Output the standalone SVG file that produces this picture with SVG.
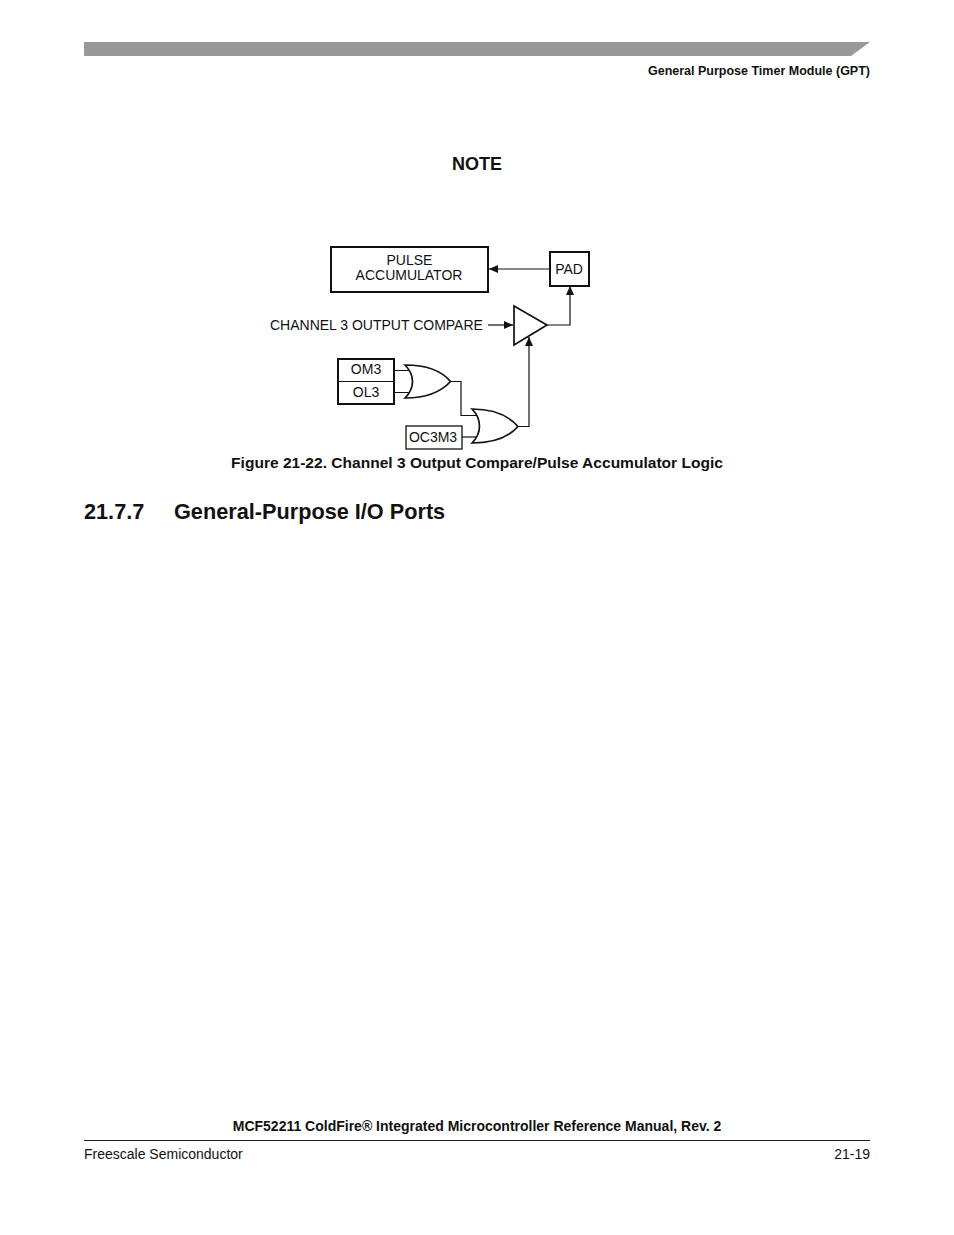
<svg xmlns="http://www.w3.org/2000/svg" width="954" height="1235" viewBox="0 0 954 1235">
<style>
text{font-family:"Liberation Sans",Arial,sans-serif;fill:#111}
.l{font-size:14px}
.b{font-weight:bold}
.m{text-anchor:middle}
.box{fill:#fff;stroke:#111;stroke-width:2}
.thin{fill:#fff;stroke:#111;stroke-width:1.3}
.w{fill:none;stroke:#111;stroke-width:1.2}
.g{fill:#fff;stroke:#111;stroke-width:1.7}
</style>
<defs><marker id="a" markerUnits="userSpaceOnUse" markerWidth="10" markerHeight="8" refX="9" refY="4" orient="auto"><path d="M0 0L9 4L0 8Z" fill="#111"/></marker></defs>
<rect width="954" height="1235" fill="#fff"/>
<g id="page-header">
<polygon points="84,42 870,42 851,56 84,56" fill="#999"/>
<text x="870" y="75" font-size="12.5" class="b" text-anchor="end">General Purpose Timer Module (GPT)</text>
</g>
<text x="477" y="170" font-size="18" class="b m">NOTE</text>
<g id="pulse-accumulator"><rect class="box" x="331" y="247" width="157" height="45"/>
<text class="l m" x="409.500" y="265">PULSE</text><text class="l m" x="409" y="280">ACCUMULATOR</text></g>
<g id="pad"><rect class="box" x="550" y="252" width="39" height="34"/><text class="l m" x="569" y="274">PAD</text></g>
<g id="channel-3-output-compare"><text class="l" x="270" y="330">CHANNEL 3 OUTPUT COMPARE</text></g>
<g id="buffer"><polygon class="g" points="514,306 547,325 514,345"/></g>
<g id="om3"><rect class="box" x="338" y="359" width="56" height="45"/><path class="w" d="M338 381.500H394"/>
<text class="l m" x="366" y="374">OM3</text></g>
<g id="ol3"><text class="l m" x="366" y="397">OL3</text></g>
<g id="or1"><path class="g" d="M405 365C425 365 441 370 450.500 381.500C441 392 425 398 405 398C415 388 415 375 405 365Z"/></g>
<g id="or2"><path class="g" d="M472 409C492 409 508 415 518 426.500C508 438 492 443 472 443C482 433 482 419 472 409Z"/></g>
<g id="oc3m3"><rect class="thin" x="406" y="426" width="56" height="23"/><text class="l m" x="433" y="442">OC3M3</text></g>
<g id="connectors">
<path class="w" marker-end="url(#a)" d="M550 269H489"/>
<path class="w" marker-end="url(#a)" d="M547 325H570V286"/>
<path class="w" marker-end="url(#a)" d="M488 325H513"/>
<path class="w" marker-end="url(#a)" d="M518 426.500H529V337"/>
<path class="w" d="M394 370.500H410M394 392.500H410"/>
<path class="w" d="M450.500 381.500H461V415.500H477"/>
<path class="w" d="M462 437H477"/>
</g>
<text x="477" y="468" font-size="15.55" class="b m">Figure 21-22. Channel 3 Output Compare/Pulse Accumulator Logic</text>
<text x="84" y="519" font-size="21.7" class="b">21.7.7</text>
<text x="174" y="519" font-size="21.7" class="b">General-Purpose I/O Ports</text>
<g id="page-footer">
<text x="477" y="1131" font-size="14" class="b m">MCF52211 ColdFire® Integrated Microcontroller Reference Manual, Rev. 2</text>
<path d="M84 1140.500H870" stroke="#222" stroke-width="1"/>
<text x="84" y="1159" font-size="14">Freescale Semiconductor</text>
<text x="870" y="1159" font-size="14" text-anchor="end">21-19</text>
</g>
</svg>
